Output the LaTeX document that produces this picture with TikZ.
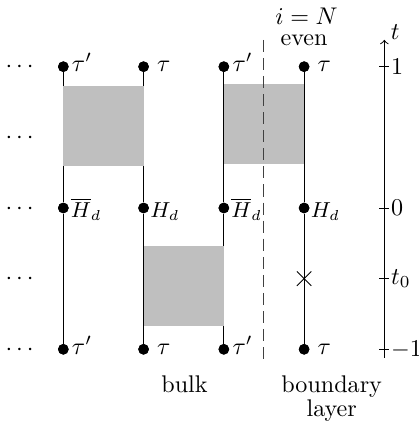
\documentclass[tikz,border=0pt]{standalone}
\usepackage{amsmath,amssymb}
\usepackage{tikz}
\usetikzlibrary{shapes,arrows}
\usetikzlibrary{positioning}
\usetikzlibrary{calc}

\begin{document}
\begin{tikzpicture}[x=1.17cm,y=2.06cm,auto,
    site/.style={circle,fill,inner sep=0pt,minimum size=4.4pt},
    plaq/.style={fill=black!25},
    lab/.style={anchor=base west,inner sep=0pt}]
        \useasboundingbox (-0.923cm,-3.222cm) rectangle (5.185cm,3.032cm);
        % sites and world lines
        \foreach \i in {0,...,3}{
            \node[site] (top\i) at (\i,1) {};
            \node[site] (mid\i) at (\i,0) {};
            \node[site] (bot\i) at (\i,-1) {};
            \draw (top\i) -- (mid\i) -- (bot\i);
        }
        \fill[plaq] (0,0.297) rectangle (1,0.862);
        \fill[plaq] (2,0.311) rectangle (3,0.876);
        \fill[plaq] (1,-0.834) rectangle (2,-0.269);
        \foreach \i in {0,...,3}{
            \node[site] at (top\i) {};
            \node[site] at (mid\i) {};
            \node[site] at (bot\i) {};
        }
        \node[draw,cross out,inner sep=0pt,minimum size=5.6pt] (x0) at (3,-0.5) {};
        % labels of the sites
        \foreach \i in {0,2}{
            \node[lab] (lt\i) at ([xshift=1pt,yshift=-2pt]top\i.east) {$\tau'$};
            \node[lab] (lb\i) at ([xshift=1pt,yshift=-2pt]bot\i.east) {$\tau'$};
            \node[lab] (lm\i) at ([xshift=0.5pt,yshift=-4pt]mid\i.east) {\small$\overline{H}_d$};
        }
        \foreach \i in {1,3}{
            \node[lab] (lt\i) at ([xshift=3pt,yshift=-2pt]top\i.east) {$\tau$};
            \node[lab] (lb\i) at ([xshift=3pt,yshift=-2pt]bot\i.east) {$\tau$};
            \node[lab] (lm\i) at ([xshift=0.2pt,yshift=-4pt]mid\i.east) {\small$H_d$};
        }
        \foreach \t/\n in {1/a,0.5/b,0/c,-0.5/d,-1/e}
            \node[anchor=base,inner sep=0pt] (dots\n) at ([yshift=-2.5pt]-0.52,\t) {$\cdots$};
        % boundary
        \draw[dash pattern=on 5pt off 2.5pt,black!75] (2.5,1.19) -- (2.5,-1.11);
        \node (even) at (3,1.19) {even};
        \node (iN) at (3.03,1.36) {$i=N$};
        % time axis
        \draw[->] (4,-1.06) -- (4,1.19) node[above right,inner sep=0pt,xshift=2.5pt] (tlab) {$t$};
        \foreach \t/\l/\n in {1/1/a,0/0/b,-0.5/t_0/c,-1/-1/d}
            \draw (4,\t) ++(-2.1pt,0) -- ++(4.2pt,0) node[right,inner sep=0.5pt] (tick\n) {$\l$};
        \node (bulk) at (1.51,-1.251) {bulk};
        \node[align=center,inner sep=0pt] (bdry) at (3.344,-1.35) {boundary\\[-2pt]layer};
\end{tikzpicture}
\end{document}
